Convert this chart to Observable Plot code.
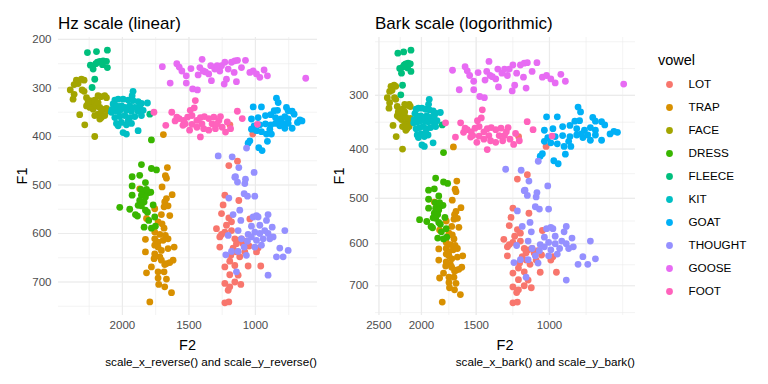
<!DOCTYPE html>
<html><head><meta charset="utf-8">
<script src="https://cdn.jsdelivr.net/npm/d3@7"></script>
<script src="https://cdn.jsdelivr.net/npm/@observablehq/plot@0.6"></script>
<style>
body{margin:0;background:#fff;}
#root{position:relative;width:768px;height:384px;overflow:hidden;font-family:"Liberation Sans",Arial,sans-serif;}
#root > svg{position:absolute;top:0;}
</style></head><body><div id="root"></div>
<script>
// ---- data (F2 Hz, F1 Hz) ----
const vowels = ["LOT","TRAP","FACE","DRESS","FLEECE","KIT","GOAT","THOUGHT","GOOSE","FOOT"];
const colors = ["#F8766D","#D89000","#A3A500","#39B600","#00BF7D","#00BFC4","#00B0F6","#9590FF","#E76BF3","#FF62BC"];
const xTicksHz = [1000,1500,2000];
const xTicksBark = [1000,1500,2000,2500];
const yTicksHz = [200,300,400,500,600,700];
const yTicksBark = [300,400,500,600,700];

const LOT = [[1230,521],[1243,541],[1125,532],[1255,559],[1200,568],[1180,576],[1218,583],[1293,590],[1255,602],[1268,607],[1230,597],[1180,594],[1042,570],[1155,611],[1130,614],[1105,611],[1143,621],[1093,621],[1068,616],[1168,630],[1185,645],[1268,628],[1118,648],[1193,657],[1230,669],[1155,666],[1055,667],[960,667],[1193,685],[1130,686],[1230,703],[1193,710],[1205,717],[1155,700],[1110,705],[1230,743],[1200,741],[992,638],[980,630],[1080,638],[1143,638],[1047,626],[1200,460],[1135,451],[1192,376],[1020,395]];
const TRAP = [[1692,396],[1662,464],[1677,481],[1669,486],[1702,504],[1626,520],[1669,528],[1682,535],[1657,543],[1687,545],[1644,563],[1707,561],[1757,549],[1819,569],[1732,576],[1702,580],[1687,589],[1757,597],[1719,602],[1677,604],[1757,611],[1732,618],[1694,614],[1657,611],[1827,612],[1611,628],[1657,631],[1732,628],[1757,642],[1827,638],[1719,648],[1707,655],[1669,662],[1619,655],[1644,660],[1782,669],[1819,681],[1732,679],[1687,679],[1732,692],[1669,694],[1727,705],[1682,710],[1631,722],[1794,741],[1757,624],[1707,635],[1762,652],[1682,664],[1870,508]];
const FACE = [[2346,284],[2308,282],[2288,284],[2392,304],[2363,293],[2333,291],[2303,304],[2288,307],[2371,323],[2363,313],[2270,320],[2245,326],[2233,333],[2208,325],[2183,316],[2163,318],[2133,316],[2120,320],[2270,337],[2245,340],[2220,344],[2195,337],[2170,340],[2145,344],[2120,342],[2158,350],[2183,354],[2208,357],[2158,361],[2321,355],[2283,376],[2208,400],[2258,330],[2183,330],[2108,347],[2170,364],[2133,357]];
const DRESS = [[1857,458],[1870,480],[1782,466],[1744,469],[1927,483],[1827,495],[1927,502],[1862,509],[1837,513],[1807,516],[1787,515],[1857,521],[1827,525],[1927,521],[1870,532],[1837,535],[1882,542],[1857,543],[2020,546],[1945,550],[1902,561],[1887,564],[1827,552],[1812,556],[1769,541],[1757,566],[1837,587],[1782,589],[1752,585],[1802,573],[1819,509],[1782,407]];
const FLEECE = [[2263,227],[2195,225],[2113,222],[2241,253],[2220,261],[2188,247],[2170,245],[2145,244],[2120,245],[2113,258],[2208,282],[2228,299],[1794,354],[2150,252],[2200,250],[1995,341]];
const KIT = [[1920,307],[1927,316],[2057,325],[2032,323],[1995,323],[1957,325],[1920,326],[1882,328],[1857,332],[1812,331],[2070,333],[2045,337],[2007,337],[1982,340],[1945,337],[1907,340],[1870,337],[2083,350],[2045,348],[2020,347],[1970,346],[1932,348],[1882,348],[1844,346],[2057,361],[2020,359],[1982,357],[1945,361],[1907,359],[2045,373],[2007,371],[1970,376],[1932,373],[1882,388],[1995,392],[1970,395],[2032,378],[1957,368],[1857,357],[2078,344]];
const GOAT = [[842,321],[829,330],[1017,339],[955,339],[859,347],[834,346],[767,340],[754,347],[724,348],[709,354],[1030,364],[980,361],[925,357],[885,355],[849,361],[809,364],[779,359],[754,364],[666,366],[684,371],[1010,378],[967,376],[925,374],[885,376],[849,373],[817,378],[779,383],[724,383],[1030,385],[992,388],[955,390],[917,395],[880,395],[1042,409],[1055,414],[975,423],[950,429],[910,410],[824,371],[792,373],[892,385],[754,373],[650,368]];
const THOUGHT = [[1280,440],[1175,442],[1125,464],[1067,424],[1010,474],[1150,483],[1155,484],[1135,494],[1075,488],[1080,497],[1085,518],[1060,523],[1005,523],[1200,527],[1168,561],[1118,552],[1110,573],[1017,566],[992,563],[980,566],[905,561],[917,573],[967,583],[1030,585],[1130,594],[1205,604],[1055,602],[1005,597],[967,600],[930,594],[905,600],[874,587],[867,607],[892,611],[942,611],[992,614],[1060,616],[1105,611],[779,594],[817,630],[842,648],[792,648],[754,635],[905,686],[1143,679],[1180,637],[1223,644],[1130,637],[1068,645],[1005,628],[955,624],[1030,607],[1085,628]];
const GOOSE = [[1700,256],[1641,290],[1591,250],[1573,257],[1553,265],[1520,290],[1485,260],[1472,302],[1520,275],[1401,241],[1418,258],[1393,265],[1336,254],[1351,271],[1306,261],[1268,265],[1255,254],[1230,247],[1205,261],[1180,247],[1155,244],[1135,243],[1075,243],[1160,268],[1105,258],[1042,268],[1017,265],[992,271],[967,278],[935,263],[910,275],[1235,292],[1218,282],[1143,287],[1436,304],[622,280],[1431,273],[1331,285],[1288,254],[1376,267]];
const FOOT = [[1763,350],[1629,350],[1674,377],[1604,368],[1573,363],[1540,367],[1510,360],[1477,357],[1490,346],[1452,326],[1440,367],[1414,361],[1384,359],[1351,363],[1313,360],[1275,367],[1263,359],[1212,370],[1250,381],[1301,384],[1351,387],[1414,401],[1389,384],[1440,381],[1477,375],[1545,377],[1495,387],[1326,374],[1187,384],[1136,348],[1099,363],[985,375],[1460,341],[1402,374],[1288,374],[1225,391],[1528,374],[1591,360]];

const series = {LOT,TRAP,FACE,DRESS,FLEECE,KIT,GOAT,THOUGHT,GOOSE,FOOT};
const data = vowels.flatMap(v => series[v].map(([F2,F1]) => ({vowel:v, F2, F1})));

// ---- helpers ----
const bark = f => 26.81*f/(1960+f) - 0.53;
const hz = z => 1960*(z+0.53)/(26.28-z);
const ident = v => v;
const expand = ([a,b]) => { const d=(b-a)*0.05; return [a-d,b+d]; };
function minorBreaks(majors, [lo,hi]) {
  const b = [...majors].sort((p,q)=>p-q);
  const bd = b[1]-b[0];
  if (lo < b[0]) b.unshift(b[0]-bd);
  if (hi > b[b.length-1]) b.push(b[b.length-1]+bd);
  const out = [];
  for (let i=0;i<b.length-1;i++) out.push(b[i], (b[i]+b[i+1])/2);
  out.push(b[b.length-1]);
  return out.filter(v => v>=lo && v<=hi);
}
const FONT = '"Liberation Sans", Arial, sans-serif';
const GRID = "#EBEBEB";
const R = 3.4;

function panel({tx, ty, xt, yt, width, ml, mr, left}) {
  const xd = expand(d3.extent(data, d => tx(d.F2)));
  const yd = expand(d3.extent(data, d => ty(d.F1)));
  const xT = xt.map(tx), yT = yt.map(ty);
  const back = (f) => (v) => String(Math.round((f === ident ? v : hz(v))/10)*10);
  const p = Plot.plot({
    width, height: 384, marginLeft: ml, marginRight: mr, marginTop: 37, marginBottom: 69,
    style: {fontFamily: FONT, fontSize: "11.5px", background: "transparent", overflow: "visible"},
    x: {domain: xd, reverse: true},
    y: {domain: yd, reverse: true},
    color: {domain: vowels, range: colors},
    marks: [
      Plot.ruleX(minorBreaks(xT, xd), {stroke: GRID, strokeWidth: 0.6}),
      Plot.ruleY(minorBreaks(yT, yd), {stroke: GRID, strokeWidth: 0.6}),
      Plot.ruleX(xT, {stroke: GRID, strokeWidth: 1.2}),
      Plot.ruleY(yT, {stroke: GRID, strokeWidth: 1.2}),
      Plot.axisX({ticks: xT, tickFormat: back(tx), tickSize: 0, tickPadding: 5, label: null, color: "#4D4D4D", fontSize: 11.5}),
      Plot.axisY({ticks: yT, tickFormat: back(ty), tickSize: 0, tickPadding: 7, label: null, color: "#4D4D4D", fontSize: 11.5}),
      Plot.dot(data, {x: d => tx(d.F2), y: d => ty(d.F1), fill: "vowel", r: R})
    ]
  });
  p.style.left = left + "px";
  return p;
}

const root = document.getElementById("root");
root.appendChild(panel({tx: ident, ty: ident, xt: xTicksHz, yt: yTicksHz, width: 330, ml: 58, mr: 13, left: 0}));
root.appendChild(panel({tx: bark, ty: bark, xt: xTicksBark, yt: yTicksBark, width: 310, ml: 45, mr: 5, left: 330}));

// legend
const leg = Plot.plot({
  width: 128, height: 384, margin: 0,
  style: {fontFamily: FONT, fontSize: "11.5px", background: "transparent"},
  x: {axis: null, domain: [0,128], range: [0,128]},
  y: {type: "point", domain: vowels, range: [84, 291], padding: 0, axis: null},
  color: {domain: vowels, range: colors},
  marks: [
    Plot.dot(vowels, {x: () => 29, y: d => d, fill: d => d, r: R}),
    Plot.text(vowels, {x: () => 48, y: d => d, text: d => d, textAnchor: "start", fill: "#000", fontSize: 11.7})
  ]
});
leg.style.left = "640px";
root.appendChild(leg);

// text overlay
const svg = d3.select(root).append("svg").attr("width",768).attr("height",384)
  .style("left","0px").style("font-family", FONT);
const t = (x,y,s,size,anchor="start",fill="#000") => svg.append("text").attr("x",x).attr("y",y)
  .attr("font-size",size).attr("text-anchor",anchor).attr("fill",fill).text(s);
t(58, 29, "Hz scale (linear)", 17);
t(375, 29, "Bark scale (logorithmic)", 17);
t(187.5, 350, "F2", 14.5, "middle");
t(505, 350, "F2", 14.5, "middle");
svg.append("text").attr("transform","translate(26.7,176) rotate(-90)").attr("text-anchor","middle").attr("font-size",14.5).text("F1");
svg.append("text").attr("transform","translate(343.7,176) rotate(-90)").attr("text-anchor","middle").attr("font-size",14.5).text("F1");
t(317, 366, "scale_x_reverse() and scale_y_reverse()", 11.7, "end");
t(635, 366, "scale_x_bark() and scale_y_bark()", 11.7, "end");
t(658, 65, "vowel", 14.5);
</script></body></html>
